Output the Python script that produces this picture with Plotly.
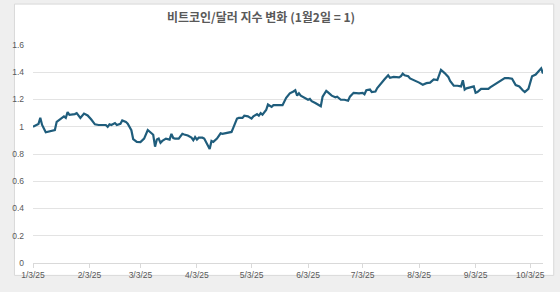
import plotly.graph_objects as go

title_text = "비트코인/달러 지수 변화 (1월2일 = 1)"

dates = [
    "2025-01-03", "2025-01-05", "2025-01-06", "2025-01-07", "2025-01-08", "2025-01-10", "2025-01-12", "2025-01-14",
    "2025-01-15", "2025-01-16", "2025-01-17", "2025-01-19", "2025-01-20", "2025-01-21", "2025-01-22", "2025-01-23",
    "2025-01-24", "2025-01-26", "2025-01-27", "2025-01-28", "2025-01-29", "2025-01-31", "2025-02-02", "2025-02-04",
    "2025-02-06", "2025-02-08", "2025-02-10", "2025-02-12", "2025-02-13", "2025-02-14", "2025-02-15", "2025-02-17",
    "2025-02-18", "2025-02-20", "2025-02-21", "2025-02-23", "2025-02-24", "2025-02-26", "2025-02-27", "2025-03-01",
    "2025-03-03", "2025-03-05", "2025-03-07", "2025-03-08", "2025-03-09", "2025-03-10", "2025-03-11", "2025-03-12",
    "2025-03-13", "2025-03-14", "2025-03-15", "2025-03-17", "2025-03-19", "2025-03-20", "2025-03-21", "2025-03-22",
    "2025-03-24", "2025-03-26", "2025-03-27", "2025-03-29", "2025-03-31", "2025-04-01", "2025-04-02", "2025-04-03",
    "2025-04-04", "2025-04-06", "2025-04-07", "2025-04-09", "2025-04-10", "2025-04-11", "2025-04-12", "2025-04-14",
    "2025-04-16", "2025-04-17", "2025-04-20", "2025-04-22", "2025-04-23", "2025-04-25", "2025-04-26", "2025-04-28",
    "2025-04-29", "2025-05-01", "2025-05-03", "2025-05-04", "2025-05-06", "2025-05-07", "2025-05-08", "2025-05-09",
    "2025-05-11", "2025-05-12", "2025-05-14", "2025-05-15", "2025-05-18", "2025-05-20", "2025-05-22", "2025-05-24",
    "2025-05-26", "2025-05-27", "2025-05-28", "2025-05-29", "2025-05-30", "2025-06-01", "2025-06-03", "2025-06-04",
    "2025-06-05", "2025-06-07", "2025-06-09", "2025-06-10", "2025-06-11", "2025-06-13", "2025-06-14", "2025-06-16",
    "2025-06-18", "2025-06-19", "2025-06-21", "2025-06-23", "2025-06-25", "2025-06-26", "2025-06-28", "2025-06-30",
    "2025-07-01", "2025-07-03", "2025-07-04", "2025-07-05", "2025-07-07", "2025-07-08", "2025-07-10", "2025-07-11",
    "2025-07-13", "2025-07-15", "2025-07-17", "2025-07-18", "2025-07-20", "2025-07-23", "2025-07-24", "2025-07-25",
    "2025-07-26", "2025-07-28", "2025-07-29", "2025-08-01", "2025-08-03", "2025-08-05", "2025-08-07", "2025-08-09",
    "2025-08-11", "2025-08-13", "2025-08-14", "2025-08-15", "2025-08-17", "2025-08-19", "2025-08-20", "2025-08-22",
    "2025-08-24", "2025-08-26", "2025-08-27", "2025-08-28", "2025-08-29", "2025-08-30", "2025-09-01", "2025-09-02",
    "2025-09-03", "2025-09-04", "2025-09-06", "2025-09-08", "2025-09-10", "2025-09-11", "2025-09-13", "2025-09-14",
    "2025-09-16", "2025-09-18", "2025-09-19", "2025-09-21", "2025-09-23", "2025-09-25", "2025-09-27", "2025-09-29",
    "2025-09-30", "2025-10-02", "2025-10-03", "2025-10-04", "2025-10-06", "2025-10-07", "2025-10-09", "2025-10-10",
]

index_values = [
    1.000, 1.012, 1.020, 1.065, 1.013, 0.960, 0.966, 0.971,
    0.976, 1.036, 1.046, 1.060, 1.076, 1.065, 1.107, 1.088,
    1.088, 1.093, 1.100, 1.083, 1.065, 1.097, 1.083, 1.053,
    1.018, 1.013, 1.013, 1.013, 0.999, 1.018, 1.013, 1.027,
    1.013, 1.022, 1.046, 1.036, 1.022, 0.975, 0.910, 0.889,
    0.887, 0.913, 0.976, 0.966, 0.952, 0.941, 0.854, 0.906,
    0.913, 0.882, 0.896, 0.913, 0.906, 0.948, 0.917, 0.913,
    0.913, 0.948, 0.943, 0.936, 0.920, 0.901, 0.924, 0.906,
    0.920, 0.920, 0.913, 0.866, 0.836, 0.896, 0.889, 0.913,
    0.952, 0.948, 0.957, 0.962, 0.994, 1.060, 1.065, 1.065,
    1.081, 1.076, 1.060, 1.076, 1.093, 1.081, 1.100, 1.088,
    1.123, 1.163, 1.146, 1.158, 1.158, 1.158, 1.212, 1.245,
    1.259, 1.268, 1.228, 1.245, 1.228, 1.216, 1.198, 1.204,
    1.188, 1.174, 1.158, 1.151, 1.221, 1.263, 1.252, 1.228,
    1.216, 1.221, 1.198, 1.198, 1.191, 1.221, 1.249, 1.245,
    1.245, 1.249, 1.238, 1.268, 1.273, 1.254, 1.259, 1.284,
    1.320, 1.348, 1.378, 1.359, 1.366, 1.362, 1.371, 1.390,
    1.378, 1.371, 1.355, 1.338, 1.324, 1.308, 1.320, 1.324,
    1.348, 1.343, 1.380, 1.418, 1.394, 1.366, 1.336, 1.301,
    1.301, 1.296, 1.341, 1.273, 1.282, 1.285, 1.296, 1.296,
    1.249, 1.254, 1.278, 1.278, 1.278, 1.289, 1.306, 1.313,
    1.329, 1.343, 1.357, 1.357, 1.352, 1.306, 1.296, 1.266,
    1.254, 1.278, 1.320, 1.371, 1.383, 1.399, 1.429, 1.390,
]

tick_dates = ["2025-01-03", "2025-02-03", "2025-03-03", "2025-04-03", "2025-05-03",
              "2025-06-03", "2025-07-03", "2025-08-03", "2025-09-03", "2025-10-03"]
tick_labels = ["1/3/25", "2/3/25", "3/3/25", "4/3/25", "5/3/25",
               "6/3/25", "7/3/25", "8/3/25", "9/3/25", "10/3/25"]
y_ticks = [0, 0.2, 0.4, 0.6, 0.8, 1, 1.2, 1.4, 1.6]

W, H = 560, 292
ML, MR, MT, MB = 20, 17, 45, 18
PW, PH = W - ML - MR, H - MT - MB

def px_x(p):
    return (p - ML) / PW

def px_y(p):
    return (H - MB - p) / PH

fig = go.Figure()
fig.add_trace(go.Scatter(
    x=dates, y=index_values, mode="lines",
    line=dict(color="#1f5d7c", width=2.2),
    hoverinfo="x+y", showlegend=False,
))

fig.update_layout(
    width=W, height=H,
    margin=dict(l=ML, r=MR, t=MT, b=MB, pad=0),
    paper_bgcolor="#efefef",
    plot_bgcolor="rgba(0,0,0,0)",
    title=dict(
        text=title_text, x=261 / W, xref="container", xanchor="center",
        y=1 - 18 / H, yref="container", yanchor="middle",
        font=dict(family="Noto Sans CJK KR", size=12, color="#595959", weight="bold"),
    ),
    shapes=[dict(
        type="rect", xref="paper", yref="paper", layer="below",
        x0=px_x(1), x1=px_x(554), y0=px_y(287), y1=px_y(2),
        fillcolor="white", line=dict(color="#d9d9d9", width=1),
    )],
    xaxis=dict(
        type="date", range=["2025-01-03", "2025-10-10"],
        tickvals=tick_dates, ticktext=tick_labels,
        showgrid=False, showline=True, linecolor="#d9d9d9", linewidth=1,
        ticks="outside", ticklen=4, tickcolor="#d9d9d9",
        tickfont=dict(family="Liberation Sans", size=8.5, color="#595959"),
        zeroline=False, fixedrange=True,
    ),
    yaxis=dict(
        range=[0, 1.6], tickvals=y_ticks,
        showgrid=True, gridcolor="#e3e3e3", gridwidth=1,
        showline=False, zeroline=False, ticks="", ticklabelstandoff=8,
        tickfont=dict(family="Liberation Sans", size=8.5, color="#595959"),
        fixedrange=True,
    ),
)

fig.write_html("out.html", config={"displayModeBar": False})
